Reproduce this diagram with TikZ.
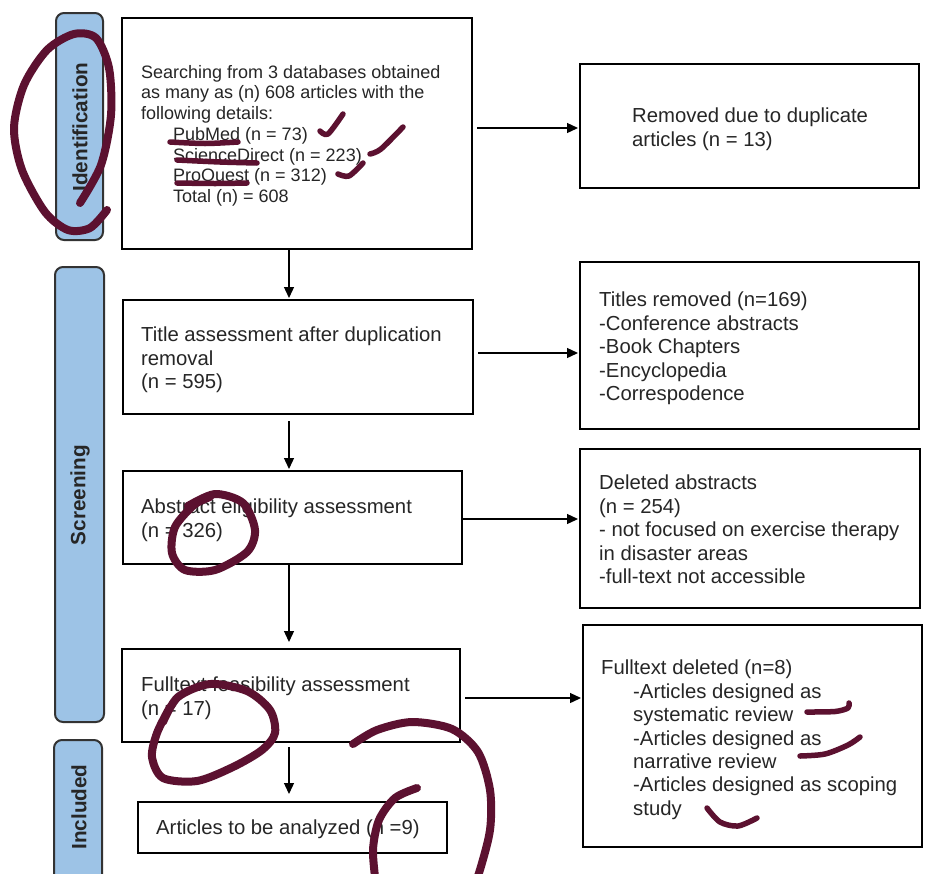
\documentclass[tikz,border=0pt]{standalone}
\usepackage{fontspec}
\setmainfont{Liberation Sans}
\usetikzlibrary{arrows.meta,calc}
\definecolor{sideblue}{HTML}{9DC3E6}
\definecolor{ink}{HTML}{5C1130}
\definecolor{txt}{HTML}{262626}
\begin{document}
\begin{tikzpicture}[x=1pt,y=-1pt,
  box/.style={draw=black,line width=2pt,anchor=north west,inner sep=0pt,outer sep=0pt},
  side/.style={draw=black!80,line width=2pt,fill=sideblue,rounded corners=8pt,anchor=north west,inner sep=0pt,outer sep=0pt},
  sidetext/.style={rotate=90,inner sep=0pt,font=\bfseries\fontsize{20.7}{24}\selectfont,text=black!85},
  body/.style={anchor=north west,inner sep=0pt,align=left,text=txt,font=\fontsize{20.3}{23.4}\selectfont},
  smallbody/.style={body,font=\fontsize{18}{20.7}\selectfont},
  arr/.style={line width=1.3pt,shorten >=2pt,-{Triangle[length=11pt,width=10pt]}},
  scrib/.style={draw=ink,line width=8pt,line cap=round,line join=round},
  scribthin/.style={draw=ink,line width=5.5pt,line cap=round,line join=round}]
\useasboundingbox (0,0) rectangle (925,873);
\fill[white] (0,0) rectangle (925,873);
\clip (0,0) rectangle (925,873);

% side labels
\node[side,minimum width=47pt,minimum height=227pt] (s1) at (56,13) {};
\node[side,minimum width=49pt,minimum height=455pt] (s2) at (55,267) {};
\node[side,minimum width=48pt,minimum height=170pt] (s3) at (54,740) {};
\node[sidetext] (s1t) at (80,127) {Identification};
\node[sidetext] (s2t) at (80,495) {Screening};
\node[sidetext] (s3t) at (79,807) {Included};

% boxes
\node[box,minimum width=350pt,minimum height=231pt] (b1) at (122,18) {};
\node[box,minimum width=339pt,minimum height=124pt] (r1) at (580,64) {};
\node[box,minimum width=350pt,minimum height=114pt] (b2) at (123,300) {};
\node[box,minimum width=339pt,minimum height=167pt] (r2) at (580,262) {};
\node[box,minimum width=339pt,minimum height=93pt] (b3) at (123,471) {};
\node[box,minimum width=340pt,minimum height=159pt] (r3) at (580,449) {};
\node[box,minimum width=338pt,minimum height=93pt] (b4) at (122,649) {};
\node[box,minimum width=339pt,minimum height=222pt] (r4) at (583,625) {};
\node[box,minimum width=309pt,minimum height=51pt] (b5) at (138,802) {};

% texts
\node[smallbody] (t1) at (141,65) {Searching from 3 databases obtained\\as many as (n) 608 articles with the\\following details:\\\hspace*{32pt}PubMed (n = 73)\\\hspace*{32pt}ScienceDirect (n = 223)\\\hspace*{32pt}ProQuest (n = 312)\\\hspace*{32pt}Total (n) = 608};
\node[body] (tr1) at (632,108) {Removed due to duplicate\\articles (n = 13)};
\node[body] (t2) at (141,327) {Title assessment after duplication\\removal\\(n = 595)};
\node[body] (tr2) at (599,292) {Titles removed (n=169)\\-Conference abstracts\\-Book Chapters\\-Encyclopedia\\-Correspodence};
\node[body] (t3) at (141,499) {Abstract eligibility assessment\\(n = 326)};
\node[body] (tr3) at (599,475) {Deleted abstracts\\(n = 254)\\- not focused on exercise therapy\\in disaster areas\\-full-text not accessible};
\node[body] (t4) at (141,677) {Fulltext feasibility assessment\\(n = 17)};
\node[body] (tr4) at (601,660) {Fulltext deleted (n=8)\\\hspace*{32pt}-Articles designed as\\\hspace*{32pt}systematic review\\\hspace*{32pt}-Articles designed as\\\hspace*{32pt}narrative review\\\hspace*{32pt}-Articles designed as scoping\\\hspace*{32pt}study};
\node[body] (t5) at (156,820) {Articles to be analyzed (n =9)};

% connectors
\coordinate (cx) at (289,0);
\draw[arr] (b1.south -| cx) -- (b2.north -| cx);
\draw[arr] ($(b2.south -| cx)+(0,7)$) -- (b3.north -| cx);
\draw[arr] (b3.south -| cx) -- ($(b4.north -| cx)+(0,-5)$);
\draw[arr] ($(b4.south -| cx)+(0,5)$) -- ($(b5.north -| cx)+(0,-6)$);
\draw[arr] ($(b1.east)+(5,-5.5)$) coordinate (p1) -- (p1 -| r1.west);
\draw[arr] ($(b2.east)+(5,-4)$) coordinate (p2) -- (p2 -| r2.west);
\draw[arr] ($(b3.east)+(0,1.5)$) coordinate (p3) -- (p3 -| r3.west);
\draw[arr] ($(b4.east)+(5,2.5)$) coordinate (p4) -- (p4 -| r4.west);

% hand-drawn annotations
\draw[scrib] plot[smooth] coordinates {(107,210) (90,228) (68,230) (45,212) (22,170) (14,128) (24,85) (47,50) (74,34) (96,38) (109,68) (111,115) (101,165) (80,203)};
\draw[scribthin] plot[smooth] coordinates {(170,142) (205,143.5) (238,142)};
\draw[scribthin] plot[smooth] coordinates {(177,160) (220,162) (257,163)};
\draw[scribthin] plot[smooth] coordinates {(177,183) (215,183.5) (247,183)};
\draw[scribthin] plot[smooth] coordinates {(320,131) (328,134) (343,114)};
\draw[scribthin] plot[smooth] coordinates {(370,154) (381,149) (403,127)};
\draw[scribthin] plot[smooth] coordinates {(338,174) (349,176) (363,163)};
\draw[scrib] plot[smooth] coordinates {(188,506) (215,494) (243,503) (255,530) (247,552) (215,570) (185,570) (172,553) (175,527) (194,505) (210,497)};
\draw[scrib] plot[smooth] coordinates {(163,722) (178,697) (210,684) (247,691) (270,710) (275,733) (262,750) (233,767) (197,781) (163,778) (152,757) (157,733) (170,707)};
\draw[scrib] plot[smooth] coordinates {(353,744) (377,730) (412,722) (452,729) (478,752) (490,790) (490,830) (479,873) (470,895)};
\draw[scrib] plot[smooth] coordinates {(417,788) (395,798) (379,820) (373,850) (376,885)};
\draw[scrib] plot[smooth] coordinates {(845,880) (885,878) (930,879)};
\draw[scribthin] plot[smooth] coordinates {(807,712) (835,711.5) (848,708) (849,703)};
\draw[scribthin] plot[smooth] coordinates {(800,756) (825,754) (848,745) (860,737)};
\draw[scribthin] plot[smooth] coordinates {(707,808) (720,822) (738,826) (757,818)};
\end{tikzpicture}
\end{document}
